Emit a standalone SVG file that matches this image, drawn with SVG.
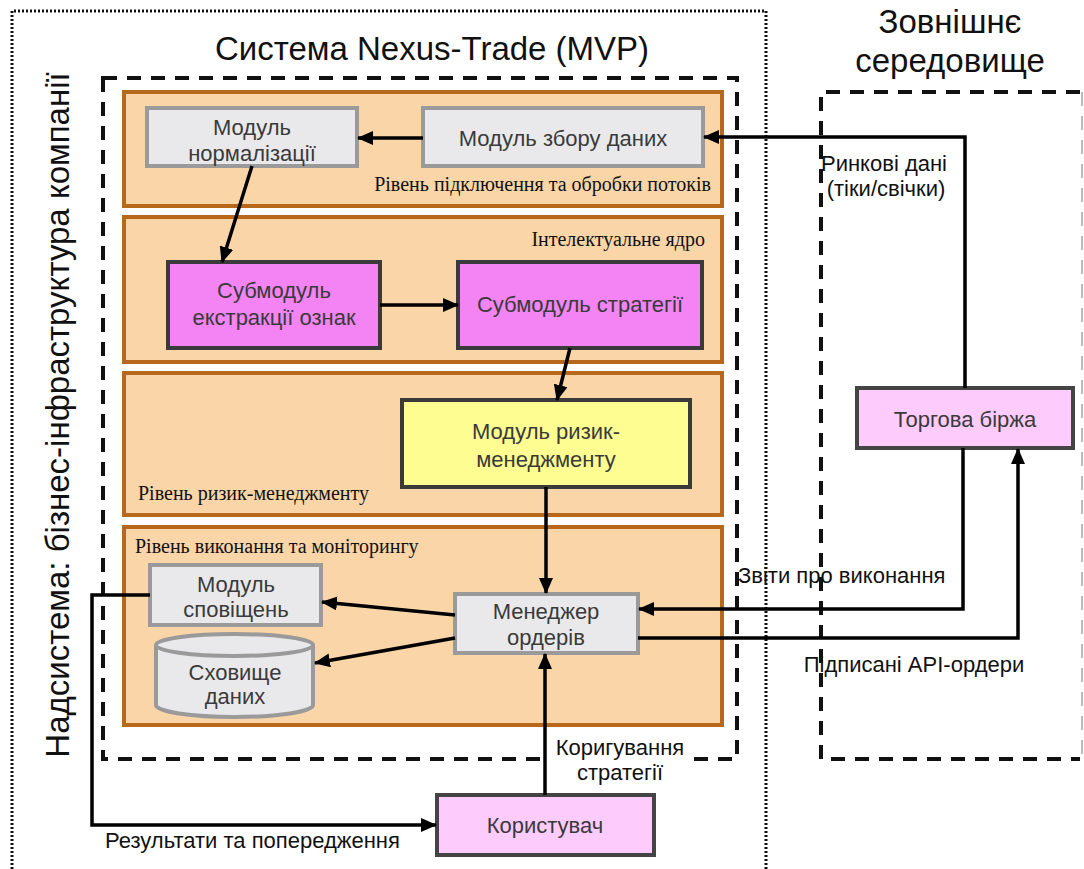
<svg xmlns="http://www.w3.org/2000/svg" width="1084" height="869" viewBox="0 0 1084 869">
<style>
.layer{fill:#f9d5a8;stroke:#b8681a;stroke-width:4}
.gray{fill:#e9e9eb;stroke:#9a9a9a;stroke-width:4}
.mag{fill:#f484f4;stroke:#3a3a3a;stroke-width:4}
.yel{fill:#fdfd92;stroke:#3a3a3a;stroke-width:4}
.pink{fill:#fdccfd;stroke:#444;stroke-width:4}
.nt{font-family:"Liberation Sans",Arial,sans-serif;font-size:22px;fill:#3a3a3a;text-anchor:middle}
.lt{font-family:"Liberation Serif","Times New Roman",serif;font-size:20px;fill:#111}
.cl{font-family:"Liberation Sans",Arial,sans-serif;font-size:22px;fill:#111}
.big{font-family:"Liberation Sans",Arial,sans-serif;font-size:33px;fill:#111;text-anchor:middle}
.conn{fill:none;stroke:#000;stroke-width:3.5}
</style>
<defs>
<marker id="ah" markerUnits="userSpaceOnUse" markerWidth="16" markerHeight="14" refX="15" refY="7" orient="auto">
<path d="M0,0 L16,7 L0,14 Z" fill="#000"/>
</marker>
</defs>
<rect width="1084" height="869" fill="#fff"/>

<g id="supersystem">
<path d="M12,869 V11 H766 V869" fill="none" stroke="#111" stroke-width="3" stroke-dasharray="2 2"/>
<text class="big" transform="translate(69,415) rotate(-90)">Надсистема: бізнес-інфраструктура компанії</text>
</g>

<g id="system">
<rect x="103" y="78" width="634" height="681" fill="none" stroke="#111" stroke-width="4" stroke-dasharray="14 10"/>
<text class="big" x="432" y="60">Система Nexus-Trade (MVP)</text>
</g>

<g id="external">
<path d="M1080,92 H821 V759 H1080" fill="none" stroke="#111" stroke-width="4" stroke-dasharray="14 10"/>
<line x1="1082" y1="92" x2="1082" y2="759" stroke="#bbb" stroke-width="2" stroke-dasharray="14 10"/>
<text class="big" x="950" y="33">Зовнішнє</text>
<text class="big" x="950" y="72">середовище</text>
</g>

<g id="layer-ingest">
<rect class="layer" x="124" y="92" width="598" height="114"/>
<text class="lt" x="711" y="191" text-anchor="end">Рівень підключення та обробки потоків</text>
</g>
<g id="layer-core">
<rect class="layer" x="124" y="217" width="598" height="145"/>
<text class="lt" x="705" y="246" text-anchor="end">Інтелектуальне ядро</text>
</g>
<g id="layer-risk">
<rect class="layer" x="124" y="373" width="598" height="142"/>
<text class="lt" x="138" y="500">Рівень ризик-менеджменту</text>
</g>
<g id="layer-exec">
<rect class="layer" x="124" y="527" width="598" height="198"/>
<text class="lt" x="135" y="553">Рівень виконання та моніторингу</text>
</g>

<g id="normalization">
<rect class="gray" x="147" y="108" width="210" height="58"/>
<text class="nt" x="252" y="135">Модуль</text>
<text class="nt" x="252" y="161">нормалізації</text>
</g>
<g id="collector">
<rect class="gray" x="423" y="108" width="280" height="58"/>
<text class="nt" x="563" y="146">Модуль збору даних</text>
</g>
<g id="features">
<rect class="mag" x="168" y="262" width="212" height="86"/>
<text class="nt" x="274" y="298">Субмодуль</text>
<text class="nt" x="274" y="325">екстракції ознак</text>
</g>
<g id="strategy">
<rect class="mag" x="458" y="262" width="244" height="86"/>
<text class="nt" x="580" y="312">Субмодуль стратегії</text>
</g>
<g id="risk">
<rect class="yel" x="402" y="400" width="288" height="87"/>
<text class="nt" x="546" y="439">Модуль ризик-</text>
<text class="nt" x="546" y="467">менеджменту</text>
</g>
<g id="order-manager">
<rect class="gray" x="455" y="594" width="183" height="59"/>
<text class="nt" x="546" y="619">Менеджер</text>
<text class="nt" x="546" y="645">ордерів</text>
</g>
<g id="notifications">
<rect class="gray" x="150" y="565" width="171" height="60"/>
<text class="nt" x="236" y="592">Модуль</text>
<text class="nt" x="236" y="617">сповіщень</text>
</g>
<g id="storage">
<path d="M156,645 V705 A78.5,12 0 0 0 313,705 V645" class="gray"/>
<ellipse class="gray" cx="234.5" cy="645" rx="78.5" ry="11"/>
<text class="nt" x="235" y="680">Сховище</text>
<text class="nt" x="235" y="704">даних</text>
</g>
<g id="exchange">
<rect class="pink" x="857" y="388" width="216" height="60"/>
<text class="nt" x="965" y="427">Торгова біржа</text>
</g>
<g id="user">
<rect class="pink" x="437" y="795" width="217" height="60"/>
<text class="nt" x="545" y="833">Користувач</text>
</g>

<g id="connectors">
<line class="conn" x1="423" y1="138" x2="358" y2="138" marker-end="url(#ah)"/>
<polyline class="conn" points="965,388 965,137 704,137" marker-end="url(#ah)"/>
<line class="conn" x1="252" y1="166" x2="222" y2="262" marker-end="url(#ah)"/>
<line class="conn" x1="380" y1="305" x2="458" y2="305" marker-end="url(#ah)"/>
<line class="conn" x1="570" y1="348" x2="557" y2="400" marker-end="url(#ah)"/>
<line class="conn" x1="546" y1="487" x2="546" y2="593" marker-end="url(#ah)"/>
<line class="conn" x1="455" y1="615" x2="322" y2="602" marker-end="url(#ah)"/>
<line class="conn" x1="455" y1="638" x2="315" y2="663" marker-end="url(#ah)"/>
<polyline class="conn" points="963,448 963,609 639,609" marker-end="url(#ah)"/>
<polyline class="conn" points="638,638 1018,638 1018,449" marker-end="url(#ah)"/>
<polyline class="conn" points="150,595 92,595 92,825 436,825" marker-end="url(#ah)"/>
<rect x="549" y="737" width="139" height="50" fill="#fff"/>
<line class="conn" x1="545" y1="795" x2="545" y2="654" marker-end="url(#ah)"/>
<text class="cl" x="884" y="171" text-anchor="middle">Ринкові дані</text>
<text class="cl" x="886" y="196" text-anchor="middle">(тіки/свічки)</text>
<text class="cl" x="738" y="583">Звіти про виконання</text>
<text class="cl" x="914" y="672" text-anchor="middle">Підписані API-ордери</text>
<text class="cl" x="620" y="755" text-anchor="middle">Коригування</text>
<text class="cl" x="620" y="780" text-anchor="middle">стратегії</text>
<text class="cl" x="105" y="848">Результати та попередження</text>
</g>
</svg>
